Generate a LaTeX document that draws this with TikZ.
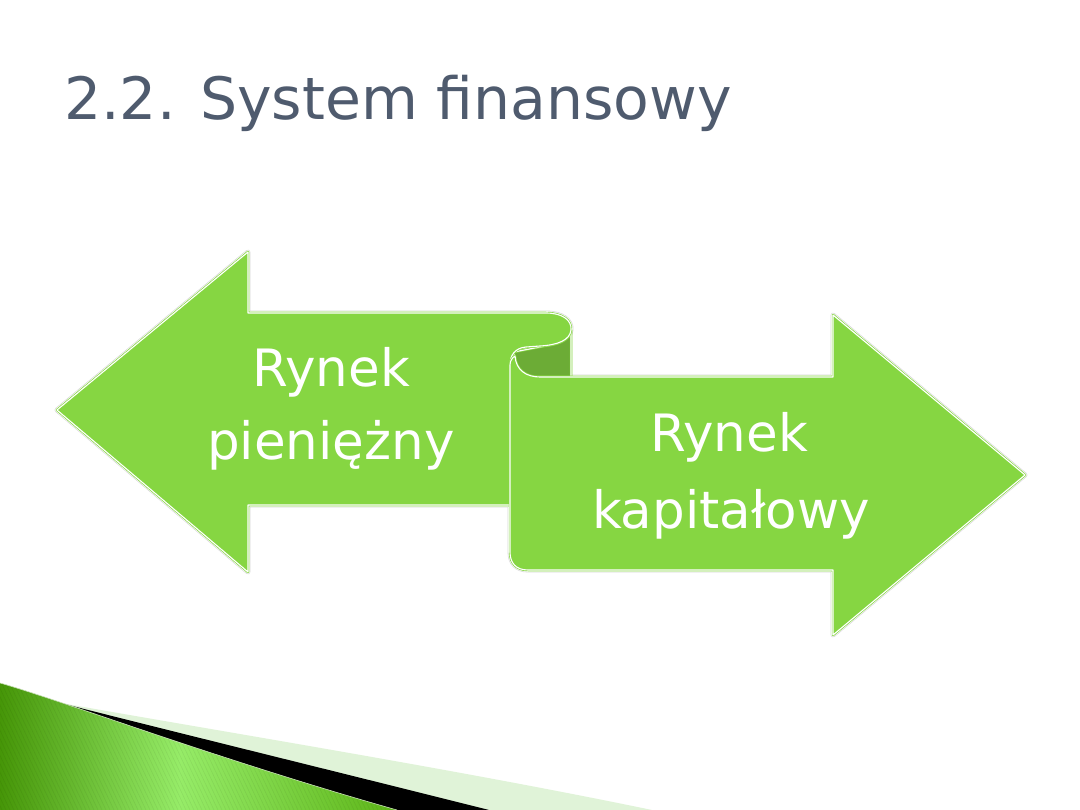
\documentclass[tikz,border=0pt]{standalone}
\usepackage{fontspec}
\setmainfont{DejaVu Sans}
\definecolor{ribbon}{RGB}{134,214,66}
\definecolor{ribbondark}{RGB}{108,172,54}
\definecolor{titlecol}{RGB}{79,91,110}
\definecolor{palegreen}{RGB}{224,243,216}
\definecolor{swdark}{RGB}{70,150,8}
\definecolor{swlight}{RGB}{150,236,104}
\definecolor{swmid}{RGB}{92,180,22}
\tikzset{
  halo/.style={draw=black!16, line width=4.8pt, line join=round},
  whalo/.style={draw=white, line width=3.6pt, line join=round},
  band/.style={fill=ribbon, draw=ribbon, double=white, double distance=1.1pt, line width=0.7pt, line join=round},
  backband/.style={fill=ribbondark, draw=ribbon, double=white, double distance=1.1pt, line width=0.7pt, line join=round},
  lbl/.style={text=white, font=\fontsize{51.5}{60}\selectfont, anchor=base, inner sep=0pt},
  ttl/.style={font=\fontsize{58.4}{66}\selectfont, anchor=base west, inner sep=0pt},
}
\begin{document}
\begin{tikzpicture}[x=1pt,y=-1pt]
\useasboundingbox (0,0) rectangle (1080,810);
\fill[white] (0,0) rectangle (1080,810);

% bottom swoosh
\fill[palegreen] (50,701) .. controls (200,728) and (450,768) .. (652,810) -- (470,810) -- cycle;
\fill[black] (45,699) .. controls (150,726) and (330,770) .. (489,810) -- (380,810) -- cycle;
\begin{scope}
  \clip (0,683) .. controls (60,700) and (220,760) .. (397,810) -- (0,810) -- cycle;
  \shade[left color=swdark, right color=swlight] (0,680) rectangle (180,810);
  \shade[left color=swlight, right color=swmid] (179.5,680) rectangle (400,810);
  \foreach \i in {-80,-76,...,400} {
    \draw[black, opacity=0.06, line width=0.6pt] (\i,680) -- (\i+62,810);
  }
\end{scope}
\draw[white!70!swdark, line width=0.6pt] (0,683) .. controls (60,700) and (220,760) .. (397,810);

% title
\node[ttl, text=titlecol] (title) at (64,120) {2.2. System finansowy};

% ribbon paths
\path[save path=\backp] (514,352) -- (545,346) .. controls (560,344) and (570,340) .. (571,330) -- (571,377) -- (514,377) -- cycle;
\path[save path=\leftp] (57,410) -- (248,252) -- (248,313) -- (546,313)
   .. controls (562,313) and (572,320) .. (571,330)
   .. controls (570,340) and (558,345) .. (540,346) -- (526,347)
   .. controls (515,348) and (510,355) .. (510,365) -- (510,505) -- (248,505) -- (248,572) -- cycle;
\path[save path=\rightp] (510,365) -- (510,552) .. controls (510,563) and (516,570) .. (528,570)
   -- (833,570) -- (833,635) -- (1025,475) -- (833,315) -- (833,377) -- (540,377)
   .. controls (526,377) and (516,370) .. (515,356)
   .. controls (512,358) and (510,361) .. (510,365) -- cycle;

\draw[halo, use path=\leftp];
\draw[halo, use path=\rightp];
\draw[whalo, use path=\leftp];
\draw[whalo, use path=\rightp];
\path[backband, use path=\backp];
\path[band, use path=\leftp];
\path[band, use path=\rightp];

% labels
\node[lbl] (rp1) at (331,387) {Rynek};
\node[lbl] (rp2) at (331,460) {pieniężny};
\node[lbl] (rk1) at (729,452) {Rynek};
\node[lbl] (rk2) at (731,528) {kapitałowy};
\end{tikzpicture}
\end{document}
